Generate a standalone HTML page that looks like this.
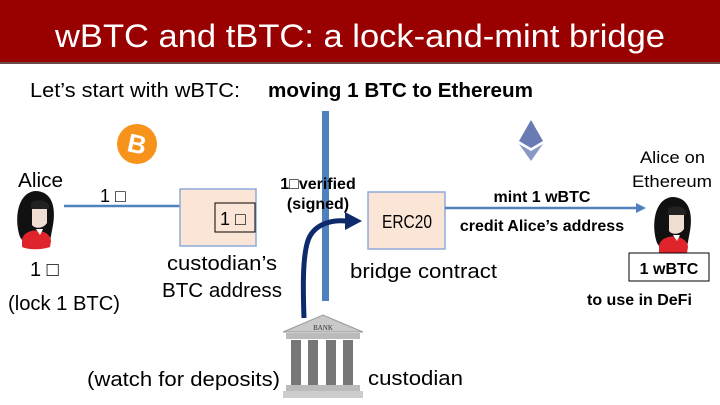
<!DOCTYPE html>
<html><head><meta charset="utf-8"><style>
body{margin:0;width:720px;height:405px;overflow:hidden;background:#fff}
svg{display:block}
.c{font-family:"Liberation Sans","DejaVu Sans",sans-serif}
</style></head><body>
<svg width="720" height="405" viewBox="0 0 720 405" class="c">
<defs>
<g id="girl">
<path d="M-15,22 C-21,5 -18,-22 0,-24 C17,-24 21,-8 18,10 L15,26 L-11,28 Z" fill="#111"/>
<path d="M-13,26 C-13,12 15,12 16,26 L15,32 C6,35 -6,35 -13,32 Z" fill="#e0242c"/>
<path d="M-3,-6 L12,-6 L12,8 C8,14 0,14 -3,10 Z" fill="#f0ddd2"/>
<path d="M-4,-12 C0,-16 10,-16 14,-10 L14,-6 L-4,-6 Z" fill="#222"/>
<path d="M1,14 L5,20 L8,14 Z" fill="#fff"/>
</g>
</defs>
<rect x="0" y="0" width="720" height="63" fill="#990000"/>
<rect x="0" y="62" width="720" height="2" fill="#6b4a4a"/>
<text x="55" y="47" textLength="610" lengthAdjust="spacingAndGlyphs" font-size="32" fill="#fff">wBTC  and  tBTC:   a lock-and-mint bridge</text>
<text x="30" y="97" textLength="210" lengthAdjust="spacingAndGlyphs" font-size="20" fill="#000">Let’s start with wBTC:</text>
<text x="268" y="97" textLength="265" lengthAdjust="spacingAndGlyphs" font-size="20" font-weight="bold" fill="#000">moving 1 BTC to Ethereum</text>

<rect x="322" y="111" width="7" height="190" fill="#4f81bd"/>

<circle cx="137" cy="144" r="20" fill="#f7931a"/>
<text x="137" y="153" text-anchor="middle" font-size="26" font-weight="bold" fill="#fff" transform="rotate(12 137 144)">B</text>

<text x="18" y="187" textLength="45" lengthAdjust="spacingAndGlyphs" font-size="20">Alice</text>
<use href="#girl" x="35" y="215"/>
<text x="30" y="276" font-size="20">1 □</text>
<text x="8" y="310" textLength="112" lengthAdjust="spacingAndGlyphs" font-size="20">(lock 1 BTC)</text>

<line x1="64" y1="206" x2="200" y2="206" stroke="#4f81bd" stroke-width="2.5"/>
<path d="M208,206 L198,201 L198,211 Z" fill="#4f81bd"/>
<text x="100" y="202" font-size="18">1 □</text>

<rect x="180" y="189" width="76" height="57" fill="#fbe5d6" stroke="#8faadc" stroke-width="1.5"/>
<rect x="215" y="203" width="40" height="29" fill="none" stroke="#000" stroke-width="1"/>
<text x="220" y="225" font-size="18">1 □</text>
<text x="167" y="270" textLength="110" lengthAdjust="spacingAndGlyphs" font-size="20">custodian’s</text>
<text x="162" y="297" textLength="120" lengthAdjust="spacingAndGlyphs" font-size="20">BTC address</text>

<text x="318" y="189" text-anchor="middle" font-size="16" font-weight="bold">1□verified</text>
<text x="318" y="209" text-anchor="middle" font-size="16" font-weight="bold">(signed)</text>

<path d="M304,318 C303,290 302,250 310,236 C318,222 335,220 346,221" fill="none" stroke="#0d2a6b" stroke-width="5"/>
<path d="M362,221 L345,212 L345,230 Z" fill="#0d2a6b"/>

<rect x="368" y="192" width="77" height="57" fill="#fbe5d6" stroke="#8faadc" stroke-width="1.5"/>
<text x="382" y="228" textLength="50" lengthAdjust="spacingAndGlyphs" font-size="18">ERC20</text>
<text x="350" y="278" textLength="147" lengthAdjust="spacingAndGlyphs" font-size="20">bridge contract</text>

<line x1="445" y1="208" x2="638" y2="208" stroke="#4f81bd" stroke-width="2.5"/>
<path d="M646,208 L636,203 L636,213 Z" fill="#4f81bd"/>
<text x="542" y="202" text-anchor="middle" font-size="16" font-weight="bold">mint 1 wBTC</text>
<text x="542" y="231" text-anchor="middle" font-size="16" font-weight="bold">credit Alice’s address</text>

<path d="M531,120 L543,141 L531,148 L519,141 Z" fill="#6a7bb4"/>
<path d="M519,144 L531,151 L543,144 L531,161 Z" fill="#8a98c8"/>

<text x="640" y="163" textLength="65" lengthAdjust="spacingAndGlyphs" font-size="17">Alice on</text>
<text x="632" y="187" textLength="80" lengthAdjust="spacingAndGlyphs" font-size="17">Ethereum</text>
<use href="#girl" x="672" y="221"/>
<rect x="629" y="253" width="80" height="28" fill="#fff" stroke="#000" stroke-width="1"/>
<text x="669" y="274" text-anchor="middle" font-size="16" font-weight="bold">1 wBTC</text>
<text x="587" y="305" font-size="16" font-weight="bold">to use in DeFi</text>

<g>
<path d="M283,332 L323,315 L363,332 Z" fill="#c9c9c9" stroke="#999"/>
<text x="323" y="330" text-anchor="middle" font-size="7" font-family="Liberation Serif,serif" fill="#333">BANK</text>
<rect x="286" y="333" width="74" height="6" fill="#bbb"/>
<rect x="291" y="340" width="10" height="45" fill="#777"/>
<rect x="308" y="340" width="10" height="45" fill="#777"/>
<rect x="326" y="340" width="10" height="45" fill="#777"/>
<rect x="343" y="340" width="10" height="45" fill="#777"/>
<rect x="286" y="385" width="74" height="6" fill="#bbb"/>
<rect x="283" y="391" width="80" height="7" fill="#ccc"/>
</g>
<text x="368" y="385" textLength="95" lengthAdjust="spacingAndGlyphs" font-size="20">custodian</text>
<text x="87" y="386" textLength="193" lengthAdjust="spacingAndGlyphs" font-size="20">(watch for deposits)</text>
</svg>
</body></html>
